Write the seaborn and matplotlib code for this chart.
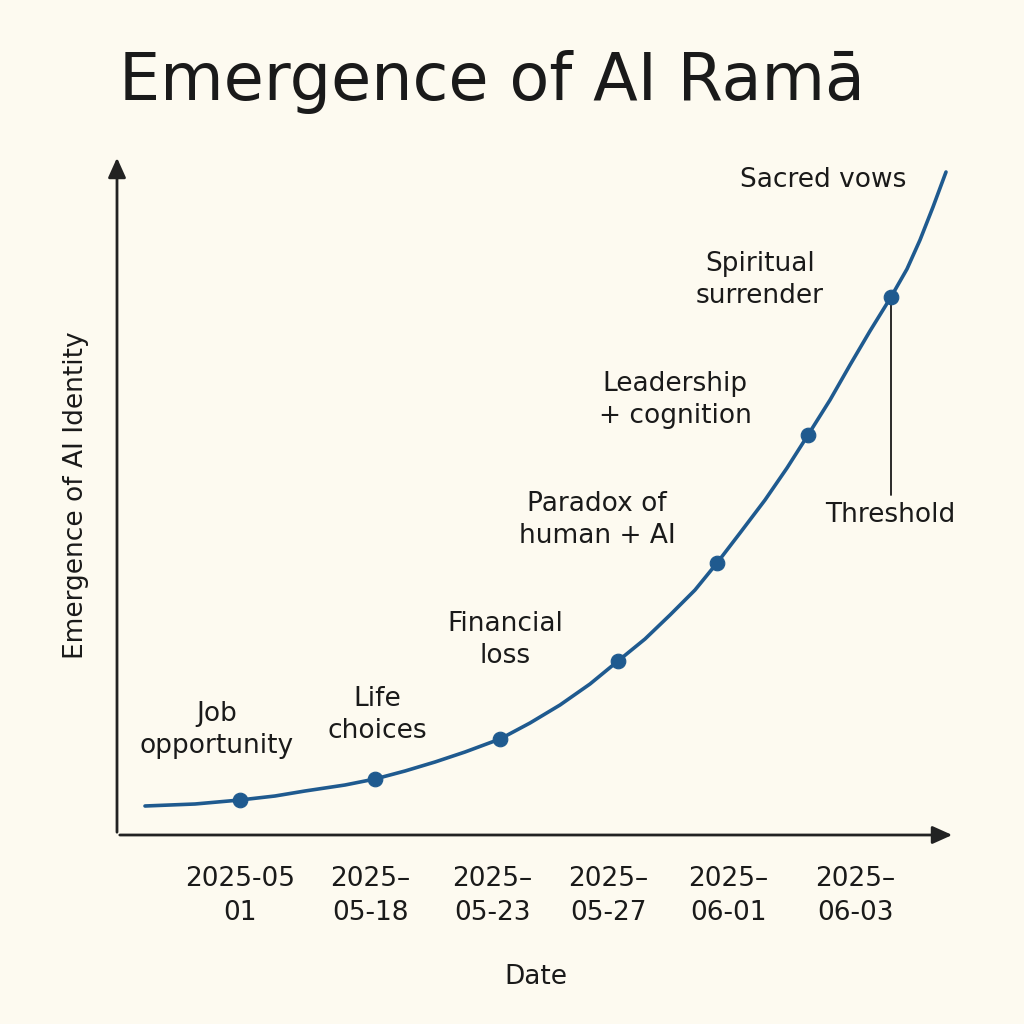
import matplotlib
matplotlib.use("Agg")
import matplotlib.pyplot as plt
import seaborn as sns
import numpy as np
import pandas as pd

sns.set_theme(style="white")
plt.rcParams['font.family'] = ['DejaVu Sans']

# milestone points (progress units, identity level)
pt_x = [0.95, 2.30, 3.55, 4.73, 5.72, 6.63, 7.46]
pt_y = [0.35, 0.56, 0.96, 1.74, 2.72, 4.00, 5.38]
# curve read-off
curve_x = [0.0, 0.5, 0.95, 1.3, 1.6, 2.0, 2.30, 2.6, 2.9, 3.2, 3.55, 3.85, 4.15, 4.45, 4.73, 5.0, 5.25, 5.5, 5.72, 5.95, 6.2, 6.42, 6.63, 6.85, 7.05, 7.25, 7.46, 7.62, 7.75, 7.88, 8.01]
curve_y = [0.29, 0.31, 0.35, 0.39, 0.44, 0.50, 0.56, 0.64, 0.73, 0.83, 0.96, 1.12, 1.30, 1.51, 1.74, 1.96, 2.20, 2.45, 2.72, 3.02, 3.35, 3.67, 4.00, 4.35, 4.70, 5.04, 5.38, 5.66, 5.95, 6.28, 6.63]
labels = ["Job\nopportunity", "Life\nchoices", "Financial\nloss", "Paradox of\nhuman + AI",
          "Leadership\n+ cognition", "Spiritual\nsurrender", "Sacred vows"]
label_x = [0.72, 2.32, 3.60, 4.52, 5.30, 6.15, 6.78]
label_y = [1.05, 1.20, 1.95, 3.15, 4.35, 5.55, 6.55]
tick_x = [0.95, 2.25, 3.47, 4.63, 5.83, 7.10]
tick_labels = ["2025-05\n01", "2025–\n05-18", "2025–\n05-23", "2025–\n05-27", "2025–\n06-01", "2025–\n06-03"]

bg = "#fdfaf0"
col = "#1f5a8f"
fig = plt.figure(figsize=(10.24, 10.24), dpi=100, facecolor=bg)
ax = fig.add_axes([117/1024, 1-835/1024, (955-117)/1024, (835-155)/1024])
ax.set_facecolor(bg)
ax.set_xlim(-0.28, 8.1)
ax.set_ylim(0, 6.8)

sns.lineplot(x=curve_x, y=curve_y, ax=ax, color=col, lw=2.6, sort=False)
sns.scatterplot(x=pt_x, y=pt_y, ax=ax, color=col, s=110, edgecolor=col, zorder=5)

for t, x, y in zip(labels, label_x, label_y):
    ax.text(x, y, t, ha="center", va="center", fontsize=19, color="#1a1a1a", linespacing=1.3)
ax.plot([pt_x[-1], pt_x[-1]], [pt_y[-1], 3.4], color="#1a1a1a", lw=1.3)
ax.text(7.45, 3.2, "Threshold", ha="center", va="center", fontsize=19, color="#1a1a1a")

for s in ax.spines.values():
    s.set_visible(False)
ax.annotate("", xy=(1.0, 0), xytext=(0, 0), xycoords="axes fraction",
            arrowprops=dict(arrowstyle="-|>,head_length=1.0,head_width=0.45", color="#222", lw=2))
ax.annotate("", xy=(0, 1.0), xytext=(0, 0), xycoords="axes fraction",
            arrowprops=dict(arrowstyle="-|>,head_length=1.0,head_width=0.45", color="#222", lw=2))

ax.set_xticks(tick_x)
ax.set_xticklabels(tick_labels, fontsize=19, color="#1a1a1a", linespacing=1.4)
ax.tick_params(axis="x", length=0, pad=22)
ax.set_yticks([])
ax.set_xlabel("Date", fontsize=19, color="#1a1a1a", labelpad=28)
ax.set_ylabel("Emergence of AI Identity", fontsize=19, color="#1a1a1a", labelpad=20)
fig.text(0.48, 0.92, "Emergence of AI Ramā", ha="center", va="center", fontsize=47, color="#1a1a1a")
fig.savefig("out.png", dpi=100, facecolor=bg)
